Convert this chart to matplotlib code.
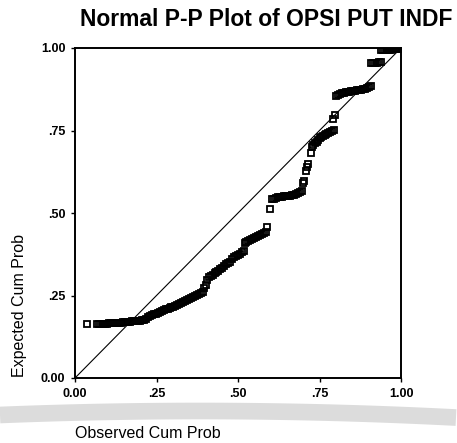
import numpy as np
import matplotlib
matplotlib.use("Agg")
import matplotlib.pyplot as plt

# observed / expected cumulative probabilities
obs_flat = [0.036, 0.068, 0.074, 0.080, 0.086, 0.092, 0.098, 0.104, 0.110, 0.116, 0.122, 0.128, 0.134,
            0.140, 0.146, 0.152, 0.158, 0.164, 0.170, 0.176, 0.182, 0.188, 0.194, 0.200, 0.206, 0.212]
exp_flat = [0.165, 0.163, 0.164, 0.164, 0.165, 0.165, 0.165, 0.166, 0.166, 0.167, 0.167, 0.167, 0.168,
            0.168, 0.169, 0.169, 0.170, 0.170, 0.171, 0.172, 0.172, 0.173, 0.173, 0.174, 0.175, 0.176]

obs_rise = [0.218, 0.224, 0.230, 0.236, 0.242, 0.248, 0.254, 0.260, 0.266, 0.272, 0.278, 0.284, 0.290,
            0.296, 0.302, 0.308, 0.314, 0.320, 0.326, 0.332, 0.338, 0.344, 0.350, 0.356, 0.362, 0.368,
            0.374, 0.380, 0.386, 0.392]
exp_rise = [0.180, 0.184, 0.187, 0.190, 0.193, 0.195, 0.198, 0.201, 0.203, 0.206, 0.208, 0.210, 0.212,
            0.214, 0.216, 0.219, 0.221, 0.223, 0.226, 0.229, 0.232, 0.235, 0.238, 0.242, 0.245, 0.248,
            0.251, 0.254, 0.257, 0.262]

obs_mid = [0.397, 0.401, 0.404, 0.410, 0.416, 0.422, 0.428, 0.434, 0.440, 0.446, 0.452, 0.458, 0.464,
           0.470, 0.476, 0.482, 0.488, 0.494, 0.500, 0.506, 0.512, 0.518,
           0.520, 0.526, 0.532, 0.538, 0.544, 0.550, 0.556, 0.562, 0.568, 0.574, 0.580, 0.586, 0.589,
           0.598]
exp_mid = [0.272, 0.282, 0.297, 0.307, 0.310, 0.313, 0.317, 0.320, 0.324, 0.329, 0.334, 0.339, 0.344,
           0.348, 0.353, 0.360, 0.366, 0.371, 0.374, 0.377, 0.381, 0.384,
           0.408, 0.411, 0.414, 0.417, 0.420, 0.423, 0.426, 0.429, 0.432, 0.435, 0.438, 0.442, 0.459,
           0.513]

obs_upper = [0.605, 0.611, 0.617, 0.623, 0.629, 0.635, 0.641, 0.647, 0.653, 0.659, 0.665, 0.671, 0.677,
             0.683, 0.689, 0.695, 0.699, 0.703, 0.710, 0.713, 0.716, 0.723,
             0.726, 0.731, 0.736, 0.741, 0.746, 0.751, 0.756, 0.761, 0.766, 0.771, 0.776, 0.781, 0.787,
             0.793, 0.792, 0.797]
exp_upper = [0.541, 0.543, 0.545, 0.547, 0.548, 0.549, 0.550, 0.551, 0.552, 0.553, 0.554, 0.556, 0.558,
             0.560, 0.563, 0.568, 0.591, 0.596, 0.627, 0.640, 0.648, 0.683,
             0.700, 0.706, 0.711, 0.716, 0.721, 0.726, 0.730, 0.734, 0.737, 0.740, 0.743, 0.745, 0.748,
             0.752, 0.785, 0.797]

obs_top = [0.800, 0.806, 0.812, 0.818, 0.824, 0.830, 0.836, 0.842, 0.848, 0.854, 0.860, 0.866, 0.872,
           0.878, 0.884, 0.890, 0.896, 0.902, 0.908,
           0.908, 0.914, 0.920, 0.926, 0.932, 0.938,
           0.940, 0.946, 0.952, 0.958, 0.964, 0.970, 0.976, 0.982, 0.988, 0.994, 1.000]
exp_top = [0.855, 0.859, 0.862, 0.864, 0.865, 0.866, 0.867, 0.868, 0.869, 0.870, 0.871, 0.872, 0.873,
           0.874, 0.875, 0.877, 0.879, 0.882, 0.885,
           0.955, 0.955, 0.956, 0.956, 0.957, 0.957,
           0.993, 0.993, 0.994, 0.994, 0.995, 0.995, 0.996, 0.996, 0.997, 0.998, 1.000]

tick_vals = [0.0, 0.25, 0.5, 0.75, 1.0]
tick_labels = ["0.00", ".25", ".50", ".75", "1.00"]

observed = np.array(obs_flat + obs_rise + obs_mid + obs_upper + obs_top)
expected = np.array(exp_flat + exp_rise + exp_mid + exp_upper + exp_top)

W, H = 457, 443
plt.rcParams['font.family'] = ['Liberation Sans', 'DejaVu Sans']
fig = plt.figure(figsize=(W / 100, H / 100), dpi=100)

# faint scanner watermark band at the bottom
wx = np.arange(0, W + 1, 4)
wy = 411 + 0.0001 * (wx - 200) ** 2
fig.add_artist(plt.Line2D(wx / W, 1 - wy / H, transform=fig.transFigure,
                          color="#dcdcdc", lw=12, solid_capstyle="butt", zorder=0))

ax = fig.add_axes([75 / W, 1 - 378 / H, 326 / W, 330 / H])
ax.set_xlim(0, 1)
ax.set_ylim(0, 1)
ax.patch.set_alpha(0)

ax.plot([0, 1], [0, 1], color="black", lw=0.8, zorder=2)
ax.plot(observed, expected, linestyle="none", marker="s", markersize=4.0,
        markerfacecolor="none", markeredgecolor="black", markeredgewidth=1.3, zorder=3)

for s in ax.spines.values():
    s.set_linewidth(1.4)

ax.set_xticks(tick_vals)
ax.set_xticklabels(tick_labels)
ax.set_yticks(tick_vals)
ax.set_yticklabels(tick_labels)
ax.tick_params(direction="out", length=3, width=1, labelsize=9, pad=4)
for lbl in ax.get_xticklabels() + ax.get_yticklabels():
    lbl.set_fontweight("bold")

fig.text(266 / W, 1 - 20 / H, "Normal P-P Plot of OPSI PUT INDF", ha="center", va="center",
         fontsize=16.5, fontweight="bold")
fig.text(20 / W, 1 - 377 / H, "Expected Cum Prob", rotation=90, ha="center", va="bottom",
         fontsize=11.5)
fig.text(75 / W, 1 - 433 / H, "Observed Cum Prob", ha="left", va="center", fontsize=11.5)

fig.savefig("out.png", dpi=100)
